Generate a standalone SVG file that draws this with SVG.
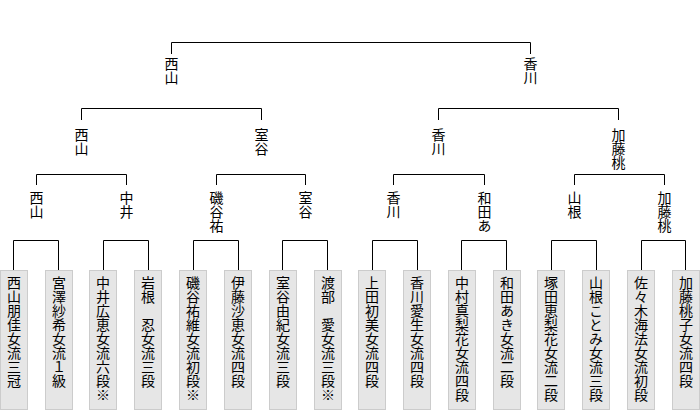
<svg xmlns="http://www.w3.org/2000/svg" width="700" height="420" viewBox="0 0 700 420">
<style>
.ln{stroke:#000;stroke-width:1;fill:none}
.box{fill:#e6e6e6;stroke:#cccccc;stroke-width:1}
.v{font-family:"Noto Sans CJK JP","Noto Sans CJK SC",sans-serif;font-size:14px;fill:#000;writing-mode:vertical-rl;text-orientation:upright}
</style>
<rect width="700" height="420" fill="#fff"/>
<g id="connectors">
<path class="ln" d="M171.5,54V42.5H530.5V54"/>
<path class="ln" d="M81.5,120V108.5H261.5V120"/>
<path class="ln" d="M438.5,120V108.5H618.5V120"/>
<path class="ln" d="M36.5,185V174.5H126.5V185"/>
<path class="ln" d="M216.5,185V174.5H305.5V185"/>
<path class="ln" d="M393.5,185V174.5H484.5V185"/>
<path class="ln" d="M574.5,185V174.5H664.5V185"/>
<path class="ln" d="M13.5,270V240.5H58.5V270"/>
<path class="ln" d="M103.5,270V240.5H148.5V270"/>
<path class="ln" d="M193.5,270V240.5H238.5V270"/>
<path class="ln" d="M282.5,270V240.5H327.5V270"/>
<path class="ln" d="M372.5,270V240.5H417.5V270"/>
<path class="ln" d="M461.5,270V240.5H506.5V270"/>
<path class="ln" d="M551.5,270V240.5H596.5V270"/>
<path class="ln" d="M641.5,270V240.5H685.5V270"/>
</g>
<g id="r1-1"><text class="v" x="171.5" y="57">西山</text></g>
<g id="r1-2"><text class="v" x="530.5" y="57">香川</text></g>
<g id="r2-1"><text class="v" x="81.5" y="128">西山</text></g>
<g id="r2-2"><text class="v" x="261.5" y="128">室谷</text></g>
<g id="r2-3"><text class="v" x="438.5" y="128">香川</text></g>
<g id="r2-4"><text class="v" x="618.5" y="128">加藤桃</text></g>
<g id="r3-1"><text class="v" x="36.5" y="191">西山</text></g>
<g id="r3-2"><text class="v" x="126.5" y="191">中井</text></g>
<g id="r3-3"><text class="v" x="216.5" y="191">磯谷祐</text></g>
<g id="r3-4"><text class="v" x="305.5" y="191">室谷</text></g>
<g id="r3-5"><text class="v" x="393.5" y="191">香川</text></g>
<g id="r3-6"><text class="v" x="484.5" y="191">和田あ</text></g>
<g id="r3-7"><text class="v" x="574.5" y="191">山根</text></g>
<g id="r3-8"><text class="v" x="664.5" y="191">加藤桃</text></g>
<g id="p1"><rect class="box" x="0.5" y="270.5" width="27" height="139"/><text class="v" x="14" y="276">西山朋佳女流三冠</text></g>
<g id="p2"><rect class="box" x="45.5" y="270.5" width="27" height="139"/><text class="v" x="59" y="276">宮澤紗希女流１級</text></g>
<g id="p3"><rect class="box" x="89.5" y="270.5" width="27" height="139"/><text class="v" x="103" y="276">中井広恵女流六段※</text></g>
<g id="p4"><rect class="box" x="134.5" y="270.5" width="27" height="139"/><text class="v" x="148" y="276">岩根　忍女流三段</text></g>
<g id="p5"><rect class="box" x="179.5" y="270.5" width="27" height="139"/><text class="v" x="193" y="276">磯谷祐維女流初段※</text></g>
<g id="p6"><rect class="box" x="224.5" y="270.5" width="27" height="139"/><text class="v" x="238" y="276">伊藤沙恵女流四段</text></g>
<g id="p7"><rect class="box" x="269.5" y="270.5" width="27" height="139"/><text class="v" x="283" y="276">室谷由紀女流三段</text></g>
<g id="p8"><rect class="box" x="314.5" y="270.5" width="27" height="139"/><text class="v" x="328" y="276">渡部　愛女流三段※</text></g>
<g id="p9"><rect class="box" x="358.5" y="270.5" width="27" height="139"/><text class="v" x="372" y="276">上田初美女流四段</text></g>
<g id="p10"><rect class="box" x="403.5" y="270.5" width="27" height="139"/><text class="v" x="417" y="276">香川愛生女流四段</text></g>
<g id="p11"><rect class="box" x="448.5" y="270.5" width="27" height="139"/><text class="v" x="462" y="276">中村真梨花女流四段</text></g>
<g id="p12"><rect class="box" x="493.5" y="270.5" width="27" height="139"/><text class="v" x="507" y="276">和田あき女流二段</text></g>
<g id="p13"><rect class="box" x="537.5" y="270.5" width="27" height="139"/><text class="v" x="551" y="276">塚田恵梨花女流二段</text></g>
<g id="p14"><rect class="box" x="582.5" y="270.5" width="27" height="139"/><text class="v" x="596" y="276">山根ことみ女流三段</text></g>
<g id="p15"><rect class="box" x="627.5" y="270.5" width="27" height="139"/><text class="v" x="641" y="276">佐々木海法女流初段</text></g>
<g id="p16"><rect class="box" x="672.5" y="270.5" width="27" height="139"/><text class="v" x="686" y="276">加藤桃子女流四段</text></g>
</svg>
